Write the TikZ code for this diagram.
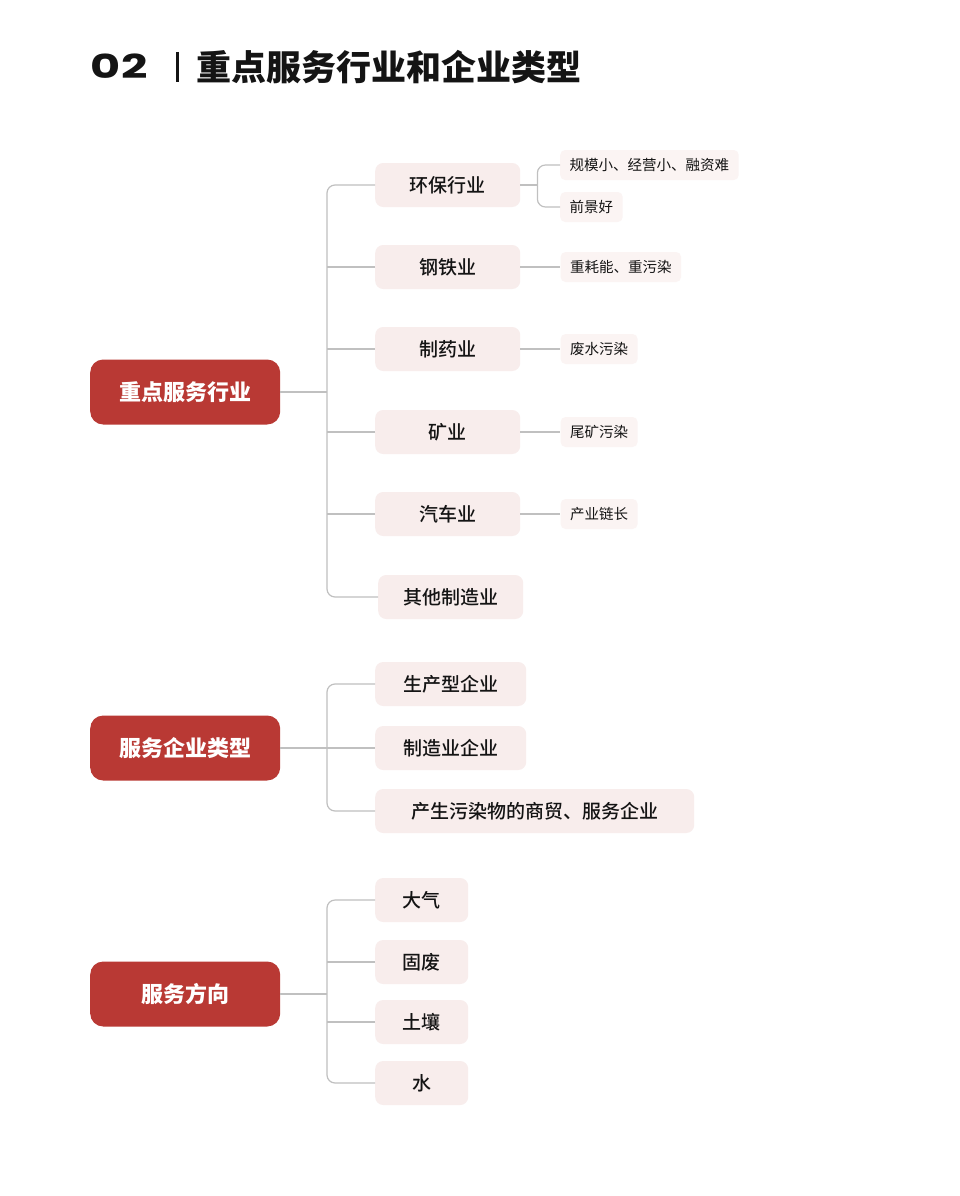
\documentclass[tikz,border=0pt]{standalone}
\usepackage{fontspec}
\newfontfamily\cjk{Noto Sans CJK SC}
\newfontfamily\cjkmed{Noto Sans CJK SC}[UprightFont={* Medium}]
\newfontfamily\numfont{Poppins}
\usepackage{tikz}
\usetikzlibrary{positioning}
\definecolor{rootred}{RGB}{185,57,52}
\definecolor{boxpink}{RGB}{248,237,236}
\definecolor{leafpink}{RGB}{251,244,243}
\definecolor{linegray}{RGB}{192,192,192}
\definecolor{inkblack}{RGB}{20,20,20}

\begin{document}
\begin{tikzpicture}[
  x=1pt, y=-1pt,
  font=\cjk,
  root/.style={rounded corners=13pt, fill=rootred, text=white, minimum width=190pt, minimum height=65pt, anchor=west, font=\cjk\bfseries\fontsize{22}{26}\selectfont},
  cat/.style={rounded corners=8pt, fill=boxpink, text=inkblack, minimum height=44pt, anchor=west, font=\cjkmed\fontsize{19}{22}\selectfont},
  leaf/.style={rounded corners=5pt, fill=leafpink, text=inkblack, minimum height=30pt, inner xsep=9.5pt, anchor=west, font=\cjk\fontsize{14.5}{17}\selectfont},
  link/.style={draw=linegray, line width=1.2pt}
]
  \fill[white] (0,0) rectangle (960,1196);
  \useasboundingbox (0,0) rectangle (960,1196);

  % title
  \node[anchor=west, inkblack, xscale=1.4, font=\numfont\bfseries\fontsize{33}{36}\selectfont] (num) at (86,66) {02};
  \coordinate (barTop) at (177,52);
  \coordinate (barEnd) at (177,82);
  \draw[inkblack, line width=3pt] (barTop) -- (barEnd);
  \node[anchor=west, inkblack, font=\cjk\bfseries\fontsize{35}{40}\selectfont] (title) at (193,67) {重点服务行业和企业类型};

  % key industries
  \node[root] (ind) at (90,392) {重点服务行业};
  \foreach \n/\y/\t in {1/185/环保行业, 2/267/钢铁业, 3/349/制药业, 4/432/矿业, 5/514/汽车业} {
    \node[cat, minimum width=145pt] (ind\n) at (375,\y) {\t};
  }
  \node[cat, minimum width=145pt] (ind6) at (378,597) {其他制造业};
  \coordinate (tA) at (327,392);
  \draw[link] (ind.east) -- (tA);
  \draw[link, rounded corners=8pt] (ind1.west) -| (tA) |- (ind6.west);
  \foreach \n in {2,...,5} {
    \draw[link] (ind\n.west) -- (ind\n.west -| tA);
  }

  \node[leaf] (hb1) at (560,165) {规模小、经营小、融资难};
  \node[leaf] (hb2) at (560,207) {前景好};
  \coordinate[right=17pt of ind1] (fA);
  \draw[link] (ind1.east) -- (fA);
  \draw[link, rounded corners=8pt] (hb1.west) -| (fA) |- (hb2.west);
  \foreach \n/\t in {2/重耗能、重污染, 3/废水污染, 4/尾矿污染, 5/产业链长} {
    \node[leaf, right=40pt of ind\n] (note\n) {\t};
    \draw[link] (ind\n.east) -- (note\n.west);
  }

  % enterprise types
  \node[root] (svc) at (90,748) {服务企业类型};
  \node[cat, minimum width=151pt] (typ1) at (375,684) {生产型企业};
  \node[cat, minimum width=151pt] (typ2) at (375,748) {制造业企业};
  \node[cat, minimum width=319pt] (typ3) at (375,811) {产生污染物的商贸、服务企业};
  \coordinate (tB) at (327,748);
  \draw[link] (svc.east) -- (typ2.west);
  \draw[link, rounded corners=8pt] (typ1.west) -| (tB) |- (typ3.west);

  % service directions
  \node[root] (dir) at (90,994) {服务方向};
  \foreach \n/\y/\t in {1/900/大气, 2/962/固废, 3/1022/土壤, 4/1083/水} {
    \node[cat, minimum width=93pt] (dir\n) at (375,\y) {\t};
  }
  \coordinate (tC) at (327,994);
  \draw[link] (dir.east) -- (tC);
  \draw[link, rounded corners=8pt] (dir1.west) -| (tC) |- (dir4.west);
  \foreach \n in {2,3} {
    \draw[link] (dir\n.west) -- (dir\n.west -| tC);
  }
\end{tikzpicture}
\end{document}
